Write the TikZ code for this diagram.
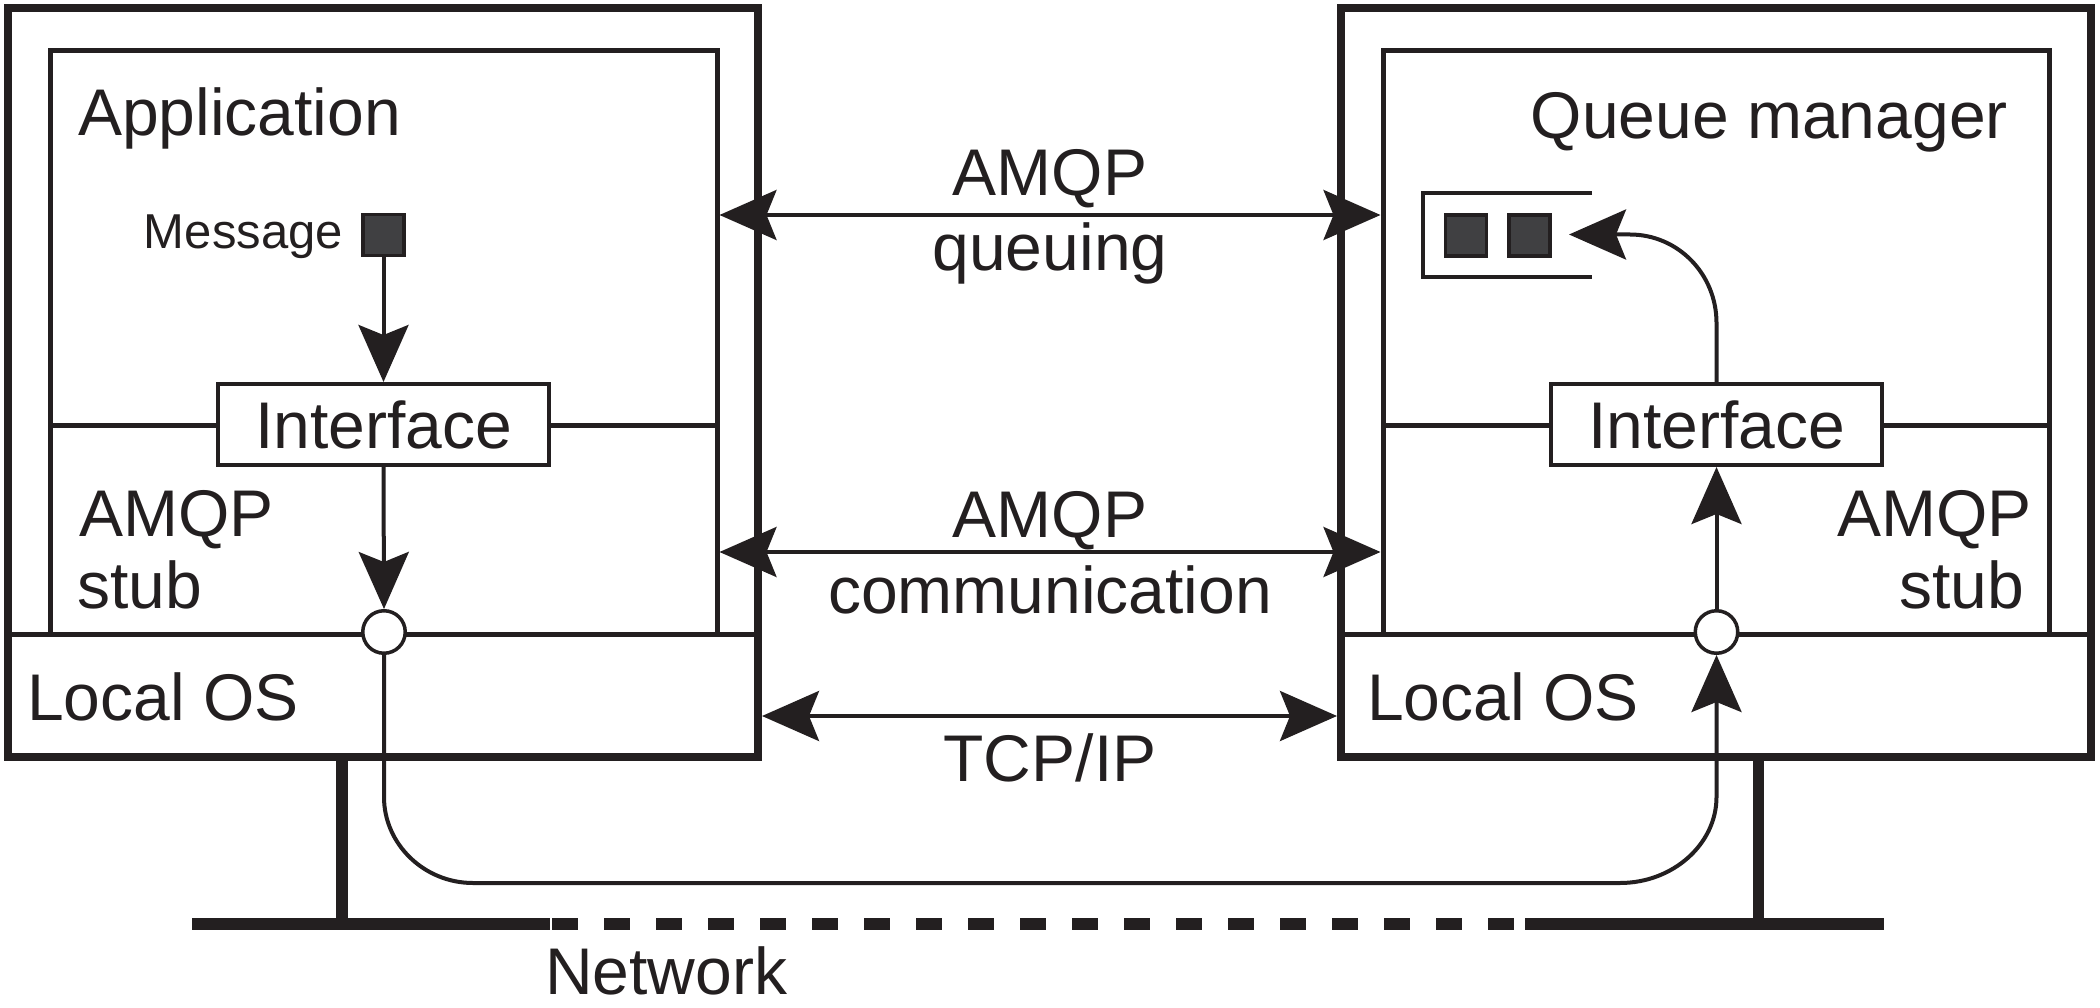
\documentclass[tikz,border=0pt]{standalone}
\usepackage{fontspec}
\setmainfont{Liberation Sans}
\usetikzlibrary{arrows.meta}
\definecolor{ink}{RGB}{35,31,32}
\definecolor{msgfill}{RGB}{64,64,66}
\begin{document}
\begin{tikzpicture}[x=1pt,y=-1pt,
  hostbox/.style={draw=ink, line width=8pt, minimum width=750pt, minimum height=749pt, inner sep=0pt},
  layerbox/.style={draw=ink, line width=5pt, minimum width=666.5pt, minimum height=583.5pt, inner sep=0pt},
  sep/.style={draw=ink, line width=5pt},
  link/.style={draw=ink, line width=4pt},
  head/.style={-{Stealth[length=57pt,width=50pt,inset=10pt]}},
  bothheads/.style={{Stealth[length=57pt,width=50pt,inset=10pt]}-{Stealth[length=57pt,width=50pt,inset=10pt]}},
  big/.style={text=ink, font=\fontsize{66}{79}\selectfont, inner sep=0pt},
  small/.style={text=ink, font=\fontsize{49}{59}\selectfont, inner sep=0pt},
  iface/.style={draw=ink, fill=white, line width=4pt, minimum width=331pt, minimum height=81pt, inner sep=0pt, text=ink, font=\fontsize{66}{79}\selectfont},
  port/.style={circle, draw=ink, fill=white, line width=3.5pt, minimum size=42.5pt, inner sep=0pt},
  msgbox/.style={draw=ink, fill=msgfill, line width=3.5pt, minimum size=41pt, inner sep=0pt},
  net/.style={draw=ink, line width=12pt},
  stem/.style={draw=ink, line width=11.5pt},
]
\useasboundingbox (0,0) rectangle (2100,1008);

% hosts and their layers
\node[hostbox] (hostL) at (383,382.5) {};
\node[hostbox] (hostR) at (1716,382.5) {};
\node[layerbox] (appL) at (383.75,342.25) {};
\node[layerbox] (qmR) at (1716.25,342.25) {};
\draw[sep] (8,634) -- (758,634);
\draw[sep] (1341,634) -- (2091,634);
\draw[sep] (50.5,425) -- (717,425);
\draw[sep] (1383.5,425) -- (2050,425);

% network with the two attachments
\draw[stem] (342,757) -- (342,924);
\draw[stem] (1758.5,757) -- (1758.5,924);
\draw[net] (192,924) -- (550,924);
\draw[net, dash pattern=on 26pt off 26pt] (552,924) -- (1514,924);
\draw[net] (1525,924) -- (1884,924);
\node[big, anchor=base west] (netlabel) at (545,994) {Network};

% layer labels
\node[big, anchor=base west] (appname) at (78,136) {Application};
\node[big, anchor=base west] (stubL1) at (79,536) {AMQP};
\node[big, anchor=base west] (stubL2) at (77,608) {stub};
\node[big, anchor=base west] (osL) at (27,720) {Local OS};
\node[big, anchor=base east] (qmname) at (2008,139) {Queue manager};
\node[big, anchor=base east] (stubR1) at (2032,536) {AMQP};
\node[big, anchor=base east] (stubR2) at (2024,608) {stub};
\node[big, anchor=base west] (osR) at (1367,720) {Local OS};

% sender side
\node[small, anchor=base east] (msglabel) at (343,248) {Message};
\node[msgbox] (msg) at (383.5,235) {};
\node[iface] (ifL) at (383.5,424.5) {Interface};
\node[port] (pL) at (384,632) {};

% receiver side
\node[iface] (ifR) at (1716.5,424.5) {Interface};
\node[port] (pR) at (1716.5,632) {};
\draw[link] (1592,193) -- (1423,193) -- (1423,277) -- (1592,277);
\node[msgbox] (q1) at (1466,235.5) {};
\node[msgbox] (q2) at (1529.5,235.5) {};
\coordinate (qin) at (1569,234.5);

% message path
\draw[link, head] (msg.south) -- (ifL.north);
\draw[link, head] (ifL.south) -- (pL.north);
\coordinate (downL) at (384,797);
\coordinate (downR) at (1716.5,797);
\draw[link, head] (pL.south) -- (downL)
  .. controls (384,844) and (424,883) .. (473,883)
  -- (1620,883)
  .. controls (1673,883) and (1716.5,844) .. (downR)
  -- (pR.south);
\draw[link, head] (pR.north) -- (ifR.south);
\coordinate (upR) at (1716.5,323);
\draw[link, head] (ifR.north) -- (upR)
  .. controls (1716.5,274) and (1678,234.5) .. (1630,234.5)
  -- (qin);

% protocol levels between the hosts
\coordinate (yq) at (0,215);
\coordinate (yc) at (0,552);
\coordinate (yt) at (0,716);
\draw[link, bothheads] (appL.east |- yq) -- (qmR.west |- yq);
\draw[link, bothheads] (appL.east |- yc) -- (qmR.west |- yc);
\draw[link, bothheads] (hostL.east |- yt) -- (hostR.west |- yt);
\node[big, anchor=base] (lq1) at (1050,196) {AMQP};
\node[big, anchor=base] (lq2) at (1050,270) {queuing};
\node[big, anchor=base] (lc1) at (1050,537) {AMQP};
\node[big, anchor=base] (lc2) at (1050,613) {communication};
\node[big, anchor=base] (lt) at (1050,781) {TCP/IP};
\end{tikzpicture}
\end{document}
